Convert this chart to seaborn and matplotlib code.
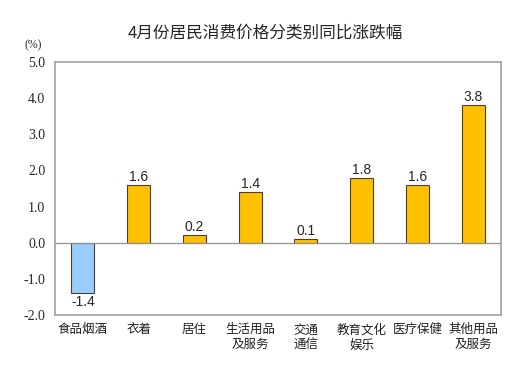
import pandas as pd
import matplotlib.pyplot as plt
import seaborn as sns

categories = ["食品烟酒", "衣着", "居住", "生活用品\n及服务", "交通\n通信", "教育文化\n娱乐", "医疗保健", "其他用品\n及服务"]
values = [-1.4, 1.6, 0.2, 1.4, 0.1, 1.8, 1.6, 3.8]
y_ticks = [-2.0, -1.0, 0.0, 1.0, 2.0, 3.0, 4.0, 5.0]

df = pd.DataFrame({"category": categories, "value": values})
df["sign"] = ["neg" if v < 0 else "pos" for v in values]

sns.set_style("white")
plt.rcParams["font.family"] = ["Noto Sans CJK SC", "DejaVu Sans"]

fig = plt.figure(figsize=(5.3, 3.78), dpi=100)
ax = fig.add_axes([0.1038, 0.1667, 0.8415, 0.6693])

sns.barplot(data=df, x="category", y="value", hue="sign",
            palette={"pos": "#FFC000", "neg": "#99CCFF"}, saturation=1,
            width=0.41, dodge=False, legend=False,
            edgecolor="#4a4030", linewidth=0.8, ax=ax)

ax.set_ylim(-2.0, 5.0)
ax.set_yticks(y_ticks)
ax.set_yticklabels([f"{t:.1f}" for t in y_ticks], family="Liberation Serif", fontsize=10)
ax.set_xlim(-0.5, len(categories) - 0.5)
ax.axhline(0, color="#909090", linewidth=0.9)

for sp in ax.spines.values():
    sp.set_color("#a0a0a0")
    sp.set_linewidth(1.2)

ax.tick_params(axis="y", length=3, color="#d0d0d0", pad=4)
ax.tick_params(axis="x", length=0, pad=6)
for lab in ax.get_xticklabels():
    lab.set_fontsize(9)
    lab.set_color("#202020")
ax.set_xlabel("")
ax.set_ylabel("")

for i, v in enumerate(values):
    if v >= 0:
        ax.text(i, v + 0.03, f"{v:.1f}", ha="center", va="bottom",
                family="Liberation Sans", fontsize=10)
    else:
        ax.text(i, v - 0.05, f"{v:.1f}", ha="center", va="top",
                family="Liberation Sans", fontsize=10)

fig.text(0.5, 0.912, "4月份居民消费价格分类别同比涨跌幅", ha="center", va="center", fontsize=12)
fig.text(0.063, 0.88, "(%)", ha="center", va="center", family="Liberation Serif", fontsize=8.5)

fig.savefig("out.png", dpi=100, facecolor="white")
